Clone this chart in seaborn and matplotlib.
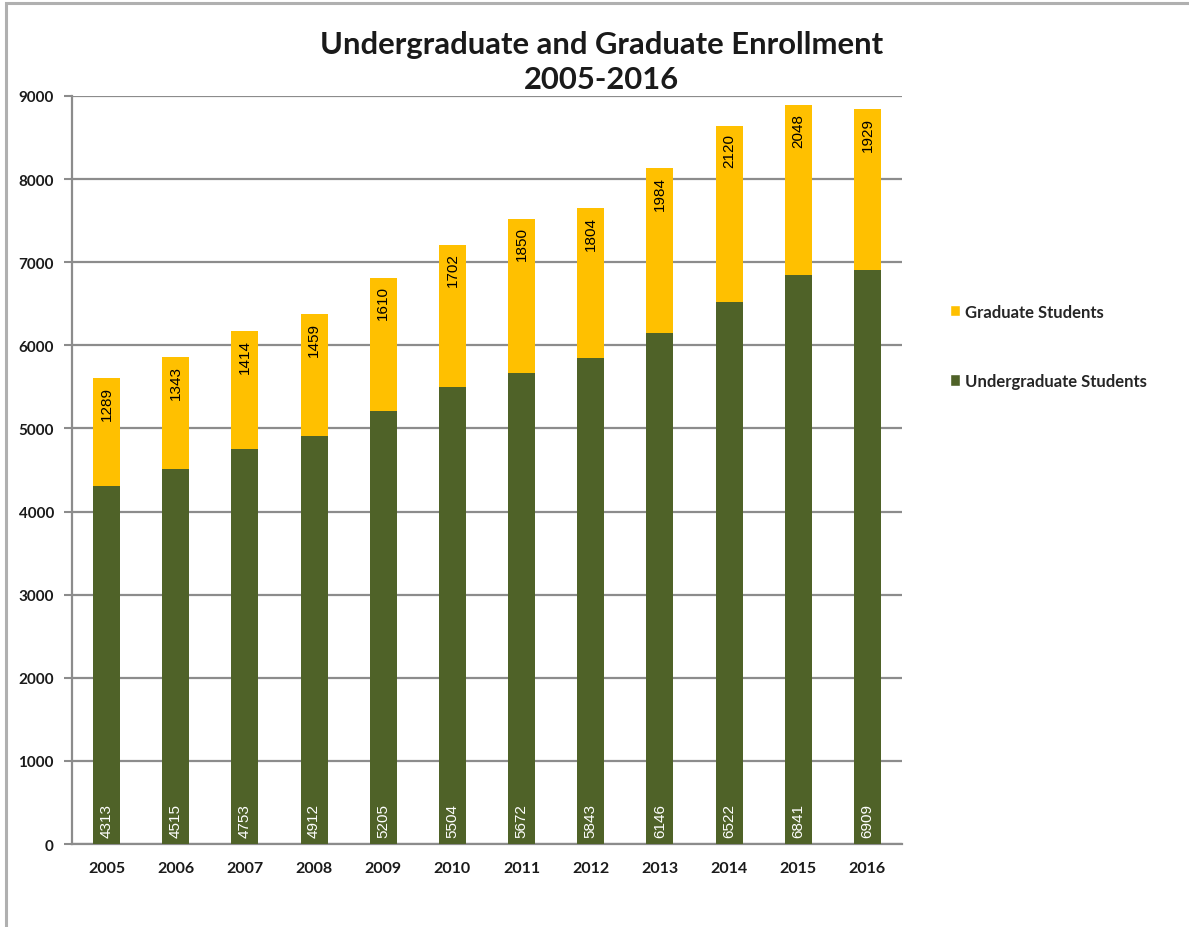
import matplotlib
matplotlib.use("Agg")
import matplotlib.pyplot as plt
from matplotlib.patches import Rectangle, Patch
import seaborn as sns
import pandas as pd

years = ["2005", "2006", "2007", "2008", "2009", "2010",
         "2011", "2012", "2013", "2014", "2015", "2016"]
undergraduate = [4313, 4515, 4753, 4912, 5205, 5504, 5672, 5843, 6146, 6522, 6841, 6909]
graduate = [1289, 1343, 1414, 1459, 1610, 1702, 1850, 1804, 1984, 2120, 2048, 1929]
y_ticks = [0, 1000, 2000, 3000, 4000, 5000, 6000, 7000, 8000, 9000]

UG_COLOR = "#4F6228"
GR_COLOR = "#FFC000"
GRID = "#8C8C8C"

sns.set_theme(style="white")
plt.rcParams["font.family"] = ["Lato", "DejaVu Sans"]

df = pd.DataFrame({
    "year": years,
    "Undergraduate Students": undergraduate,
    "Graduate Students": graduate,
})
df["total"] = df["Undergraduate Students"] + df["Graduate Students"]

fig = plt.figure(figsize=(11.89, 9.28), dpi=100)
ax = fig.add_axes([0.0606, 0.0894, 0.698, 0.8061])

# stacked bars: the full height in graduate colour, undergraduates drawn over it
sns.barplot(data=df, x="year", y="total", color=GR_COLOR, width=0.39,
            saturation=1, ax=ax, zorder=3, linewidth=0)
sns.barplot(data=df, x="year", y="Undergraduate Students", color=UG_COLOR,
            width=0.39, saturation=1, ax=ax, zorder=3, linewidth=0)

ax.set_ylim(0, 9000)
ax.set_xlim(-0.5, len(years) - 0.5)
ax.set_yticks(y_ticks)
ax.set_yticklabels([str(t) for t in y_ticks], fontsize=11, fontweight="bold",
                   color="#1a1a1a")
ax.yaxis.grid(True, color=GRID, linewidth=1.6, zorder=0)
ax.set_axisbelow(True)
ax.set_xlabel("")
ax.set_ylabel("")

# category labels centred, ticks on the category boundaries
ax.set_xticks(range(len(years)))
ax.set_xticklabels(years, fontsize=11.5, fontweight="bold", color="#1a1a1a")
ax.tick_params(axis="x", length=0, pad=12)
ax.set_xticks([i - 0.5 for i in range(len(years) + 1)], minor=True)
ax.tick_params(axis="x", which="minor", length=6, width=1.5, color=GRID,
               direction="out")
ax.tick_params(axis="y", length=6, width=1.5, color=GRID, direction="out", pad=7,
               left=True)

for side in ["top", "right"]:
    ax.spines[side].set_visible(False)
for side in ["left", "bottom"]:
    ax.spines[side].set_color(GRID)
    ax.spines[side].set_linewidth(1.6)

# value labels
for i, (u, g) in enumerate(zip(undergraduate, graduate)):
    ax.text(i, 90, str(u), rotation=90, ha="center", va="bottom",
            color="white", fontsize=11, family="Liberation Sans", zorder=5)
    ax.text(i, u + g - 90, str(g), rotation=90, ha="center", va="top",
            color="black", fontsize=11, family="Liberation Sans", zorder=5)

fig.text(0.506, 0.967, "Undergraduate and Graduate Enrollment\n2005-2016",
         ha="center", va="top", fontsize=22.3, fontweight="bold",
         color="#1a1a1a", linespacing=1.3)

handles = [Patch(facecolor=GR_COLOR, label="Graduate Students"),
           Patch(facecolor=UG_COLOR, label="Undergraduate Students")]
fig.legend(handles=handles, loc="upper left", bbox_to_anchor=(0.786, 0.688),
           frameon=False, prop={"weight": "bold", "size": 12},
           handlelength=0.65, handleheight=0.65, handletextpad=0.25,
           labelspacing=3.2)

# outer chart frame
fig.patches.append(Rectangle((6 / 1189, -0.1), 1.2, 1.1 - 4 / 928,
                             transform=fig.transFigure, fill=False,
                             edgecolor="#B0B0B0", linewidth=2.2))

fig.savefig("out.png", dpi=100)
